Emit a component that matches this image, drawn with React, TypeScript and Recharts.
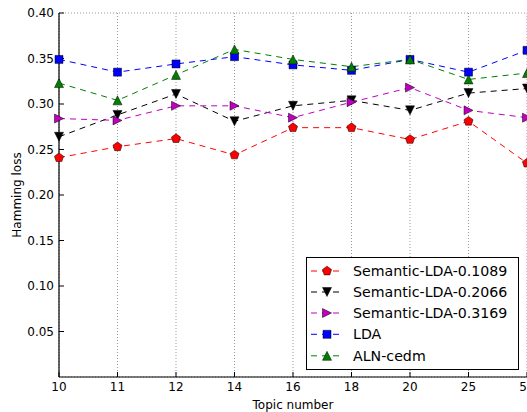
import React from 'react';
import { LineChart, Line, XAxis, YAxis, CartesianGrid, Legend } from 'recharts';

const topics = ['10', '11', '12', '14', '16', '18', '20', '25', '50'];
const sem1089 = [0.241, 0.253, 0.262, 0.244, 0.274, 0.274, 0.261, 0.281, 0.235];
const sem2066 = [0.264, 0.288, 0.311, 0.281, 0.298, 0.304, 0.293, 0.312, 0.317];
const sem3169 = [0.284, 0.282, 0.298, 0.298, 0.285, 0.302, 0.318, 0.293, 0.285];
const lda = [0.349, 0.335, 0.344, 0.352, 0.343, 0.337, 0.349, 0.335, 0.359];
const aln = [0.323, 0.304, 0.332, 0.360, 0.349, 0.341, 0.349, 0.327, 0.334];
const yTicks = [0.05, 0.1, 0.15, 0.2, 0.25, 0.3, 0.35, 0.4];

const data = topics.map((t, i) => ({
  topic: t,
  s1: sem1089[i],
  s2: sem2066[i],
  s3: sem3169[i],
  lda: lda[i],
  aln: aln[i],
}));

type Shape = 'pentagon' | 'down' | 'right' | 'square' | 'up';

const seriesDefs: { key: string; name: string; color: string; shape: Shape }[] = [
  { key: 's1', name: 'Semantic-LDA-0.1089', color: '#ff0000', shape: 'pentagon' },
  { key: 's2', name: 'Semantic-LDA-0.2066', color: '#000000', shape: 'down' },
  { key: 's3', name: 'Semantic-LDA-0.3169', color: '#bf00bf', shape: 'right' },
  { key: 'lda', name: 'LDA', color: '#0000ff', shape: 'square' },
  { key: 'aln', name: 'ALN-cedm', color: '#008000', shape: 'up' },
];

function shapePath(shape: Shape, cx: number, cy: number): string {
  const h = 4.5;
  switch (shape) {
    case 'pentagon': {
      const r = 4.8;
      const pts = [];
      for (let k = 0; k < 5; k++) {
        const a = ((-90 + 72 * k) * Math.PI) / 180;
        pts.push(`${cx + r * Math.cos(a)},${cy + r * Math.sin(a)}`);
      }
      return 'M' + pts.join('L') + 'Z';
    }
    case 'down':
      return `M${cx - h},${cy - h}L${cx + h},${cy - h}L${cx},${cy + h}Z`;
    case 'up':
      return `M${cx - h},${cy + h}L${cx + h},${cy + h}L${cx},${cy - h}Z`;
    case 'right':
      return `M${cx - h},${cy - h}L${cx - h},${cy + h}L${cx + h},${cy}Z`;
    case 'square':
    default:
      return `M${cx - 4},${cy - 4}L${cx + 4},${cy - 4}L${cx + 4},${cy + 4}L${cx - 4},${cy + 4}Z`;
  }
}

const makeDot = (shape: Shape, color: string) => (props: any) => {
  const { cx, cy, index } = props;
  if (cx == null || cy == null) return <g key={`d-${index}`} />;
  return (
    <path key={`d-${shape}-${index}`} d={shapePath(shape, cx, cy)} fill={color} stroke="#000" strokeWidth={0.5} />
  );
};

const LegendBox = () => {
  const rowsY = [14, 35, 56, 77.3, 98.8];
  return (
    <svg width={213} height={113} style={{ display: 'block' }}>
      <rect x={0.5} y={0.5} width={212} height={112} fill="#fff" stroke="#000" strokeWidth={1} />
      {seriesDefs.map((s, i) => (
        <g key={s.key}>
          <line x1={5} x2={36} y1={rowsY[i]} y2={rowsY[i]} stroke={s.color} strokeDasharray="6 5" strokeWidth={1} />
          <path d={shapePath(s.shape, 21, rowsY[i])} fill={s.color} stroke="#000" strokeWidth={0.5} />
          <text x={47} y={rowsY[i]} dy="0.35em" fontSize={14.2} fill="#000" fontFamily="DejaVu Sans">
            {s.name}
          </text>
        </g>
      ))}
    </svg>
  );
};

const blank = () => '';

export default function App() {
  return (
    <div style={{ position: 'absolute', left: 0, top: 0, fontFamily: 'DejaVu Sans' }}>
      <LineChart width={527} height={412} data={data} margin={{ top: 13, right: 0, bottom: 0, left: 0 }}>
        <CartesianGrid stroke="#999" strokeDasharray="1 2" strokeWidth={1} />
        <XAxis
          dataKey="topic"
          type="category"
          xAxisId="b"
          height={35}
          tickLine={{ stroke: '#000' }}
          tickSize={-5}
          tickMargin={10}
          axisLine={{ stroke: '#000', strokeWidth: 1.2 }}
          tick={{ fill: '#000', fontSize: 12, fontFamily: 'DejaVu Sans' }}
          interval={0}
          label={{ value: 'Topic number', position: 'insideBottom', offset: 3, fill: '#000', fontSize: 12, fontFamily: 'DejaVu Sans' }}
        />
        <XAxis
          dataKey="topic"
          xAxisId="t"
          orientation="top"
          height={0}
          interval={0}
          tickFormatter={blank}
          tickLine={{ stroke: '#000' }}
          tickSize={-5}
          tickMargin={0}
          axisLine={{ stroke: '#000', strokeWidth: 1.2 }}
        />
        <YAxis
          yAxisId="l"
          width={59}
          domain={[0, 0.4]}
          ticks={yTicks}
          tickFormatter={(v: number) => v.toFixed(2)}
          tickLine={{ stroke: '#000' }}
          tickSize={-5}
          tickMargin={10}
          axisLine={{ stroke: '#000', strokeWidth: 1.2 }}
          tick={{ fill: '#000', fontSize: 12, fontFamily: 'DejaVu Sans' }}
          label={{ value: 'Hamming loss', angle: -90, position: 'insideLeft', offset: 17, fill: '#000', fontSize: 12, fontFamily: 'DejaVu Sans', style: { textAnchor: 'middle' } }}
        />
        <YAxis
          yAxisId="r"
          orientation="right"
          width={0}
          domain={[0, 0.4]}
          ticks={yTicks}
          tickFormatter={blank}
          tickLine={{ stroke: '#000' }}
          tickSize={-5}
          tickMargin={0}
          axisLine={{ stroke: '#000', strokeWidth: 1.2 }}
        />
        <Legend
          layout="vertical"
          align="center"
          verticalAlign="middle"
          wrapperStyle={{ left: 306, top: 257, width: 213, height: 113 }}
          content={() => <LegendBox />}
        />
        {seriesDefs.map((s) => (
          <Line
            key={s.key}
            xAxisId="b"
            yAxisId="l"
            dataKey={s.key}
            name={s.name}
            stroke={s.color}
            strokeWidth={1}
            strokeDasharray="6 5"
            type="linear"
            dot={makeDot(s.shape, s.color)}
            activeDot={false}
            isAnimationActive={false}
          />
        ))}
      </LineChart>
    </div>
  );
}
